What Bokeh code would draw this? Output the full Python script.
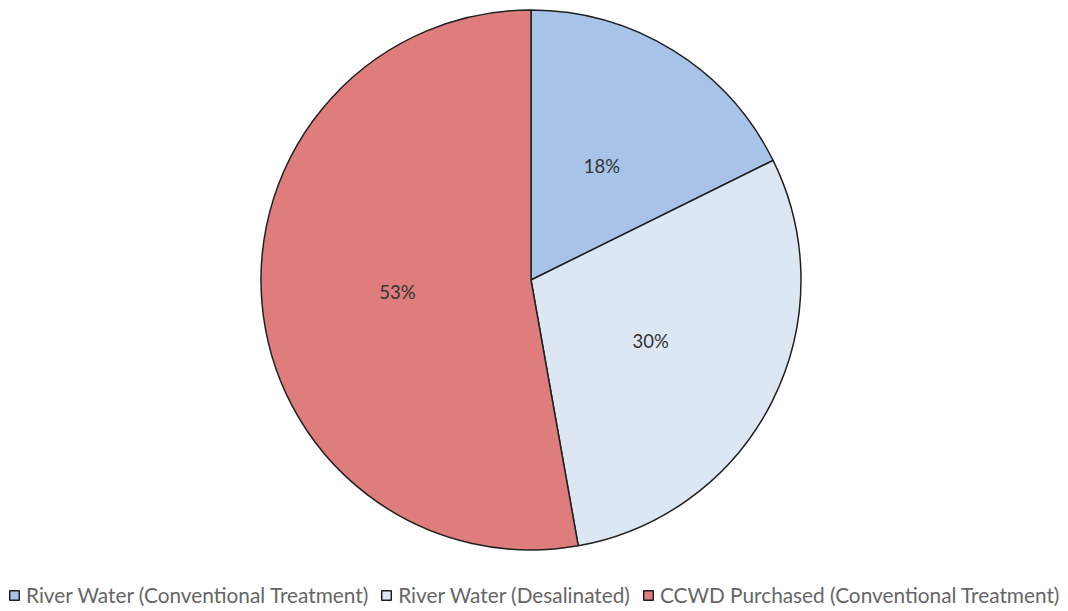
import math
from bokeh.plotting import figure
from bokeh.models import Range1d, ColumnDataSource, Legend, LegendItem
from bokeh.core.properties import value
from bokeh.embed import file_html
from bokeh.resources import INLINE

categories = ["River Water (Conventional Treatment)", "River Water (Desalinated)", "CCWD Purchased (Conventional Treatment)"]
shares = [17.7, 29.5, 52.8]
colors = ["#A7C4E8", "#DDE7F3", "#DF7C7C"]

W, H = 1068, 611
cx, cy, R = 530.5, H - 279.5, 270
label_r = 0.497 * R

total = sum(shares)
starts, ends, lx, ly, labels = [], [], [], [], []
acc = 0.0
for s in shares:
    a0 = math.pi / 2 - 2 * math.pi * acc / total
    a1 = math.pi / 2 - 2 * math.pi * (acc + s) / total
    starts.append(a0)
    ends.append(a1)
    mid = (a0 + a1) / 2
    lx.append(cx + label_r * math.cos(mid))
    ly.append(cy + label_r * math.sin(mid))
    labels.append(f"{round(100 * s / total)}%")
    acc += s

src = ColumnDataSource(dict(start=starts, end=ends, color=colors, cat=categories, lx=lx, ly=ly, label=labels))

p = figure(width=W, height=H, output_backend="svg", toolbar_location=None,
           x_range=Range1d(0, W), y_range=Range1d(0, H), min_border=0)
p.axis.visible = False
p.grid.visible = False
p.outline_line_color = None

r = p.wedge(x=cx, y=cy, radius=R, start_angle="start", end_angle="end", direction="clock",
            fill_color="color", line_color="#202020", line_width=1.5, source=src)

p.text(x="lx", y="ly", text="label", source=src, text_align="center", text_baseline="middle",
       text_font=value("Lato"), text_font_size="18.5px", text_color="#333333")

items = [LegendItem(label=c, renderers=[r], index=i) for i, c in enumerate(categories)]
legend = Legend(items=items, orientation="horizontal", location=(8, 4),
                label_text_font="Lato", label_text_font_size="20.8px", label_text_color="#666666",
                glyph_width=12, glyph_height=12, label_standoff=6, spacing=12,
                border_line_color=None, background_fill_alpha=0, padding=2, margin=0)
p.add_layout(legend)

open("out.html", "w").write(file_html(p, INLINE))
